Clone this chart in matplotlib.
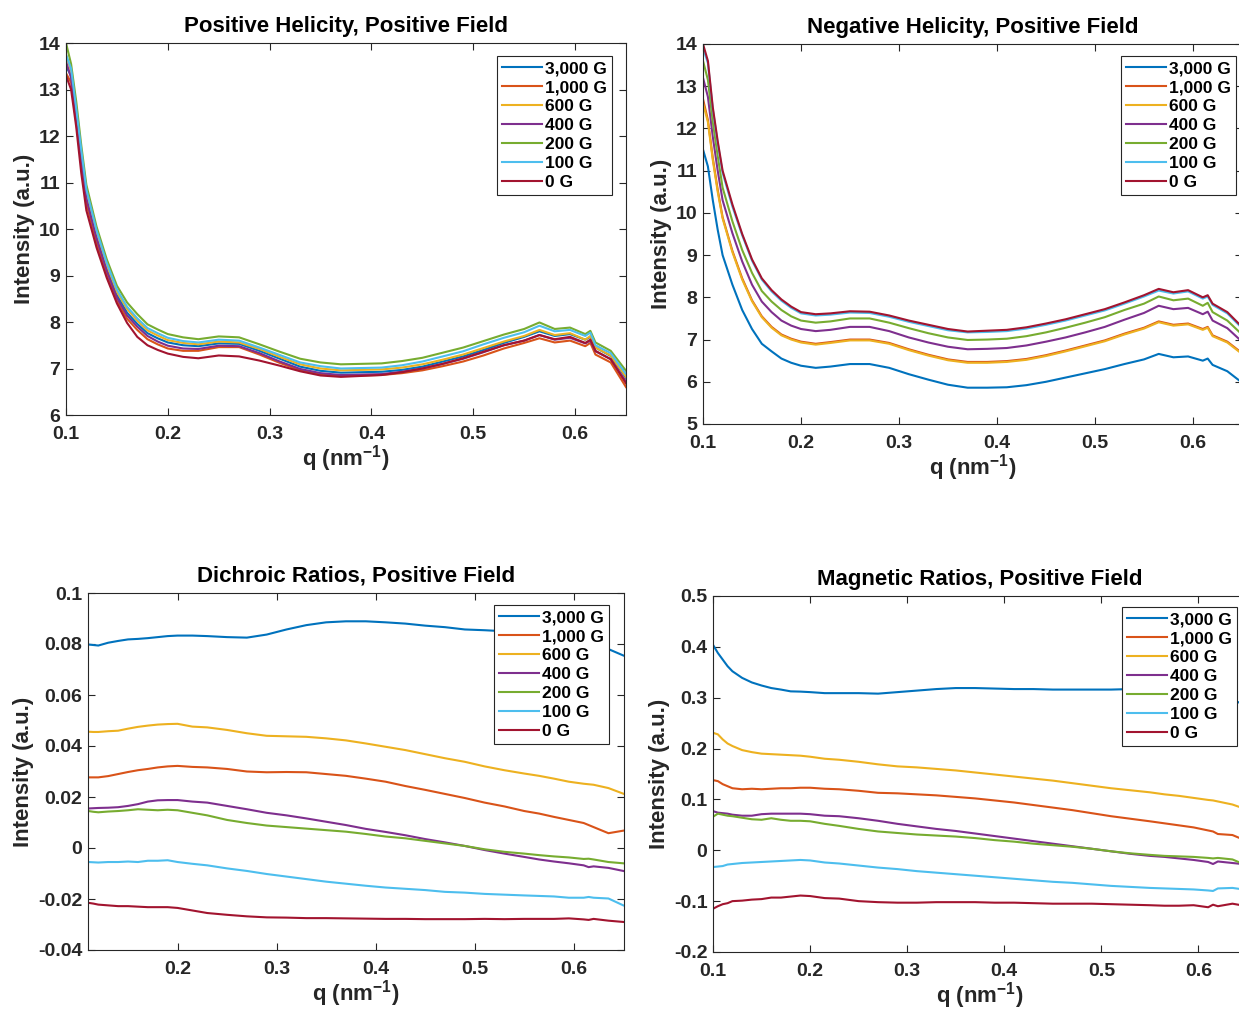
import numpy as np
import matplotlib
matplotlib.use("Agg")
import matplotlib.pyplot as plt
from matplotlib.ticker import FuncFormatter

plt.rcParams['font.family'] = ['Liberation Sans', 'DejaVu Sans']
plt.rcParams['font.weight'] = 'bold'
plt.rcParams['axes.unicode_minus'] = False
plt.rcParams['mathtext.fontset'] = 'custom'
plt.rcParams['mathtext.rm'] = 'Liberation Sans:bold'
plt.rcParams['mathtext.bf'] = 'Liberation Sans:bold'
plt.rcParams['mathtext.default'] = 'bf'

# veldsterktes en kleuren (MATLAB standaard)
fields = ['3,000 G', '1,000 G', '600 G', '400 G', '200 G', '100 G', '0 G']
colors = ['#0072BD', '#D95319', '#EDB120', '#7E2F8E', '#77AC30', '#4DBEEE', '#A2142F']

# gemeenschappelijke q-as (nm^-1)
q = [0.100, 0.105, 0.110, 0.115, 0.120, 0.130, 0.140, 0.150, 0.160, 0.170,
     0.180, 0.190, 0.200, 0.215, 0.230, 0.250, 0.270, 0.290, 0.310, 0.330,
     0.350, 0.370, 0.390, 0.410, 0.430, 0.450, 0.470, 0.490, 0.510, 0.530,
     0.550, 0.565, 0.580, 0.595, 0.610, 0.615, 0.620, 0.635, 0.650]

# Positieve heliciteit (volgorde: 3000, 1000, 600, 400, 200, 100, 0 G)
pos_helicity = [
    [13.5, 13.3, 12.45, 11.55, 10.7, 9.85, 9.15, 8.58, 8.2, 7.96, 7.76, 7.65, 7.56, 7.5, 7.48, 7.54, 7.53, 7.38, 7.21, 7.04, 6.95, 6.91, 6.92, 6.93, 6.97, 7.04, 7.15, 7.26, 7.4, 7.55, 7.68, 7.8, 7.7, 7.74, 7.62, 7.68, 7.45, 7.27, 6.8],
    [13.35, 13.15, 12.3, 11.4, 10.55, 9.7, 9.0, 8.45, 8.07, 7.83, 7.63, 7.52, 7.43, 7.38, 7.38, 7.46, 7.46, 7.3, 7.12, 6.96, 6.87, 6.84, 6.85, 6.86, 6.9, 6.96, 7.05, 7.15, 7.28, 7.43, 7.55, 7.65, 7.56, 7.6, 7.48, 7.55, 7.3, 7.13, 6.6],
    [13.75, 13.4, 12.55, 11.65, 10.8, 9.93, 9.22, 8.65, 8.28, 8.03, 7.82, 7.71, 7.61, 7.55, 7.52, 7.58, 7.56, 7.42, 7.25, 7.09, 7.0, 6.96, 6.97, 6.98, 7.02, 7.09, 7.19, 7.3, 7.44, 7.58, 7.7, 7.83, 7.72, 7.76, 7.62, 7.7, 7.45, 7.28, 6.82],
    [13.6, 13.25, 12.4, 11.5, 10.65, 9.8, 9.1, 8.52, 8.14, 7.9, 7.7, 7.58, 7.49, 7.43, 7.42, 7.49, 7.48, 7.33, 7.15, 6.99, 6.9, 6.86, 6.87, 6.88, 6.93, 7.0, 7.1, 7.21, 7.35, 7.5, 7.6, 7.72, 7.62, 7.66, 7.54, 7.6, 7.37, 7.2, 6.72],
    [14.0, 13.55, 12.75, 11.8, 10.95, 10.05, 9.35, 8.78, 8.42, 8.17, 7.95, 7.84, 7.74, 7.67, 7.63, 7.69, 7.67, 7.52, 7.36, 7.21, 7.13, 7.09, 7.1, 7.11, 7.16, 7.23, 7.34, 7.45, 7.59, 7.73, 7.85, 7.99, 7.85, 7.88, 7.74, 7.81, 7.56, 7.38, 6.95],
    [13.75, 13.45, 12.6, 11.7, 10.85, 9.97, 9.27, 8.7, 8.33, 8.08, 7.87, 7.76, 7.66, 7.59, 7.56, 7.62, 7.6, 7.45, 7.29, 7.13, 7.05, 7.0, 7.01, 7.02, 7.07, 7.15, 7.26, 7.37, 7.52, 7.66, 7.78, 7.92, 7.8, 7.83, 7.7, 7.77, 7.5, 7.33, 6.88],
    [13.3, 13.0, 12.2, 11.2, 10.4, 9.6, 8.95, 8.4, 7.98, 7.68, 7.5, 7.4, 7.32, 7.25, 7.22, 7.28, 7.26, 7.17, 7.06, 6.94, 6.85, 6.82, 6.84, 6.86, 6.92, 7.0, 7.1, 7.22, 7.36, 7.5, 7.6, 7.72, 7.63, 7.68, 7.55, 7.62, 7.38, 7.2, 6.68],
]

# Negatieve heliciteit
neg_helicity = [
    [11.5, 11.1, 10.3, 9.6, 9.0, 8.3, 7.7, 7.25, 6.9, 6.72, 6.55, 6.45, 6.38, 6.33, 6.36, 6.42, 6.42, 6.33, 6.18, 6.05, 5.93, 5.86, 5.86, 5.87, 5.92, 6.0, 6.1, 6.2, 6.3, 6.42, 6.53, 6.66, 6.58, 6.6, 6.5, 6.55, 6.4, 6.25, 5.98],
    [12.7, 12.2, 11.3, 10.55, 9.9, 9.1, 8.45, 7.93, 7.55, 7.3, 7.12, 7.02, 6.95, 6.9, 6.94, 7.0, 7.0, 6.92, 6.77, 6.64, 6.53, 6.47, 6.47, 6.49, 6.54, 6.63, 6.74, 6.86, 6.98, 7.14, 7.28, 7.43, 7.35, 7.38, 7.25, 7.3, 7.1, 6.95, 6.68],
    [12.6, 12.15, 11.25, 10.5, 9.87, 9.07, 8.42, 7.91, 7.53, 7.28, 7.1, 7.0, 6.93, 6.88, 6.92, 6.98, 6.98, 6.9, 6.75, 6.62, 6.51, 6.45, 6.45, 6.47, 6.52, 6.61, 6.72, 6.84, 6.96, 7.12, 7.26, 7.41, 7.33, 7.36, 7.23, 7.28, 7.08, 6.93, 6.66],
    [13.2, 12.75, 11.8, 11.0, 10.3, 9.52, 8.85, 8.3, 7.9, 7.65, 7.45, 7.33, 7.25, 7.2, 7.23, 7.3, 7.3, 7.2, 7.05, 6.93, 6.83, 6.77, 6.78, 6.8, 6.86, 6.95, 7.05, 7.17, 7.3, 7.47, 7.63, 7.8, 7.72, 7.75, 7.6, 7.66, 7.45, 7.27, 6.95],
    [13.6, 13.15, 12.15, 11.35, 10.6, 9.8, 9.12, 8.58, 8.15, 7.9, 7.7, 7.55, 7.45, 7.4, 7.43, 7.5, 7.5, 7.4, 7.27, 7.15, 7.05, 6.99, 7.0, 7.02, 7.08, 7.17, 7.28, 7.4, 7.53, 7.7, 7.85, 8.02, 7.93, 7.97, 7.8, 7.87, 7.65, 7.45, 7.12],
    [13.9, 13.55, 12.45, 11.65, 10.95, 10.15, 9.47, 8.87, 8.42, 8.14, 7.92, 7.75, 7.62, 7.57, 7.59, 7.64, 7.63, 7.54, 7.42, 7.32, 7.22, 7.17, 7.18, 7.2, 7.26, 7.35, 7.45, 7.57, 7.69, 7.85, 8.02, 8.16, 8.09, 8.14, 7.97, 8.02, 7.82, 7.62, 7.27],
    [14.0, 13.6, 12.5, 11.7, 11.0, 10.2, 9.5, 8.9, 8.45, 8.17, 7.95, 7.78, 7.65, 7.6, 7.62, 7.67, 7.66, 7.57, 7.45, 7.35, 7.25, 7.19, 7.21, 7.23, 7.29, 7.38, 7.48, 7.6, 7.72, 7.88, 8.05, 8.2, 8.12, 8.17, 8.0, 8.05, 7.85, 7.65, 7.3],
]

# Dichroische verhoudingen
dichroic = [
    [0.0798, 0.0798, 0.0798, 0.0796, 0.0794, 0.0805, 0.0812, 0.0818, 0.082, 0.0823, 0.0827, 0.0831, 0.0833, 0.0833, 0.0831, 0.0827, 0.0825, 0.0837, 0.0857, 0.0874, 0.0885, 0.0889, 0.0889, 0.0885, 0.088, 0.0872, 0.0866, 0.0857, 0.0854, 0.085, 0.0845, 0.084, 0.083, 0.0815, 0.080, 0.0795, 0.079, 0.078, 0.0755],
    [0.0277, 0.0277, 0.0277, 0.0277, 0.0277, 0.0282, 0.029, 0.0298, 0.0305, 0.031, 0.0316, 0.032, 0.0322, 0.0318, 0.0316, 0.031, 0.030, 0.0297, 0.0298, 0.0297, 0.029, 0.0283, 0.0272, 0.026, 0.0243, 0.0228, 0.0212, 0.0196, 0.0178, 0.0163, 0.0145, 0.0135, 0.0122, 0.011, 0.0098, 0.009, 0.0082, 0.0058, 0.0068],
    [0.0456, 0.0456, 0.0456, 0.0455, 0.0455, 0.0458, 0.046, 0.0468, 0.0475, 0.048, 0.0484, 0.0486, 0.0487, 0.0476, 0.0473, 0.0463, 0.045, 0.044, 0.0438, 0.0436, 0.043, 0.0422, 0.041, 0.0397, 0.0384, 0.0368, 0.0352, 0.0338, 0.032, 0.0305, 0.0292, 0.0283, 0.0272, 0.026, 0.0252, 0.025, 0.0248, 0.0235, 0.0213],
    [0.0155, 0.0155, 0.0155, 0.0156, 0.0157, 0.0158, 0.016, 0.0165, 0.0172, 0.0182, 0.0187, 0.0188, 0.0188, 0.0182, 0.0178, 0.0165, 0.0152, 0.0138, 0.0128, 0.0116, 0.0103, 0.009, 0.0075, 0.0063, 0.005, 0.0035, 0.0022, 0.0008, -0.0008, -0.0022, -0.0035, -0.0045, -0.0053, -0.006, -0.0068, -0.0075, -0.0072, -0.0078, -0.009],
    [0.0145, 0.0145, 0.0145, 0.0142, 0.014, 0.0143, 0.0145, 0.0148, 0.0152, 0.015, 0.0148, 0.015, 0.0148, 0.0138, 0.0128, 0.011, 0.0098, 0.0088, 0.0082, 0.0076, 0.007, 0.0064, 0.0055, 0.0045, 0.0038, 0.0028, 0.0018, 0.0008, -0.0005, -0.0015, -0.0022, -0.0028, -0.0033, -0.0037, -0.0043, -0.0042, -0.0045, -0.0055, -0.006],
    [-0.0055, -0.0055, -0.0055, -0.0056, -0.0057, -0.0055, -0.0055, -0.0053, -0.0055, -0.005, -0.005, -0.0048, -0.0055, -0.0062, -0.0068, -0.008, -0.009, -0.0102, -0.0112, -0.0122, -0.0132, -0.014, -0.0148, -0.0155, -0.016, -0.0165, -0.0172, -0.0175, -0.018, -0.0183, -0.0186, -0.0188, -0.019, -0.0195, -0.0195, -0.0192, -0.0195, -0.0198, -0.0225],
    [-0.0215, -0.0215, -0.0215, -0.0218, -0.0222, -0.0225, -0.0228, -0.0228, -0.023, -0.0232, -0.0232, -0.0232, -0.0235, -0.0245, -0.0255, -0.0262, -0.0268, -0.0272, -0.0273, -0.0275, -0.0275, -0.0276, -0.0277, -0.0278, -0.0278, -0.0279, -0.0279, -0.0279, -0.0278, -0.0279, -0.0278, -0.0278, -0.0278, -0.0276, -0.028, -0.0282, -0.0278, -0.0285, -0.029],
]

# Magnetische verhoudingen
magnetic = [
    [0.404, 0.388, 0.375, 0.362, 0.352, 0.339, 0.33, 0.324, 0.319, 0.316, 0.3125, 0.312, 0.311, 0.309, 0.309, 0.309, 0.308, 0.311, 0.314, 0.317, 0.319, 0.319, 0.318, 0.317, 0.317, 0.316, 0.316, 0.316, 0.316, 0.317, 0.318, 0.318, 0.317, 0.315, 0.31, 0.308, 0.305, 0.296, 0.284],
    [0.138, 0.136, 0.13, 0.126, 0.122, 0.12, 0.121, 0.12, 0.121, 0.122, 0.122, 0.123, 0.123, 0.121, 0.12, 0.117, 0.113, 0.112, 0.11, 0.108, 0.105, 0.102, 0.098, 0.094, 0.089, 0.084, 0.079, 0.073, 0.067, 0.062, 0.057, 0.053, 0.049, 0.045, 0.039, 0.037, 0.032, 0.03, 0.018],
    [0.231, 0.228, 0.218, 0.21, 0.205, 0.197, 0.193, 0.19, 0.189, 0.188, 0.187, 0.186, 0.184, 0.18, 0.178, 0.174, 0.169, 0.165, 0.163, 0.16, 0.157, 0.153, 0.149, 0.145, 0.141, 0.137, 0.132, 0.127, 0.122, 0.118, 0.114, 0.11, 0.107, 0.103, 0.099, 0.098, 0.096, 0.09, 0.08],
    [0.077, 0.074, 0.073, 0.072, 0.07, 0.068, 0.068, 0.071, 0.072, 0.072, 0.072, 0.072, 0.071, 0.068, 0.067, 0.063, 0.058, 0.052, 0.047, 0.042, 0.038, 0.033, 0.028, 0.023, 0.018, 0.013, 0.008, 0.003, -0.002, -0.007, -0.011, -0.013, -0.016, -0.019, -0.023, -0.027, -0.022, -0.025, -0.028],
    [0.066, 0.072, 0.07, 0.068, 0.067, 0.064, 0.061, 0.06, 0.063, 0.06, 0.058, 0.058, 0.057, 0.052, 0.048, 0.042, 0.037, 0.034, 0.031, 0.029, 0.027, 0.024, 0.02, 0.017, 0.013, 0.01, 0.007, 0.003, -0.002, -0.006, -0.009, -0.011, -0.012, -0.013, -0.015, -0.016, -0.015, -0.018, -0.03],
    [-0.033, -0.032, -0.031, -0.028, -0.027, -0.025, -0.024, -0.023, -0.022, -0.021, -0.02, -0.019, -0.02, -0.024, -0.026, -0.03, -0.034, -0.037, -0.041, -0.044, -0.047, -0.05, -0.053, -0.056, -0.059, -0.062, -0.064, -0.067, -0.07, -0.072, -0.074, -0.075, -0.076, -0.077, -0.079, -0.08, -0.075, -0.074, -0.078],
    [-0.115, -0.11, -0.106, -0.104, -0.1, -0.099, -0.097, -0.096, -0.093, -0.093, -0.091, -0.089, -0.09, -0.094, -0.095, -0.1, -0.102, -0.103, -0.103, -0.102, -0.102, -0.102, -0.103, -0.103, -0.104, -0.105, -0.105, -0.105, -0.106, -0.107, -0.108, -0.109, -0.109, -0.108, -0.112, -0.107, -0.11, -0.105, -0.11],
]

titles = ['Positive Helicity, Positive Field', 'Negative Helicity, Positive Field',
          'Dichroic Ratios, Positive Field', 'Magnetic Ratios, Positive Field']

W, H = 1239, 1009
fig = plt.figure(figsize=(W / 100, H / 100), dpi=100)


def px_rect(x0, y0, x1, y1):
    # pixelcoordinaten (boven-links) -> figuurfracties
    return [x0 / W, 1 - y1 / H, (x1 - x0) / W, (y1 - y0) / H]


panels = [
    (pos_helicity, px_rect(66, 43, 626, 415), (0.1, 0.65), (6, 14), np.arange(6, 15, 1), (612, 56)),
    (neg_helicity, px_rect(703, 44, 1242, 424), (0.1, 0.65), (5, 14), np.arange(5, 15, 1), (1236, 56)),
    (dichroic, px_rect(88, 593, 624, 950), (0.1096, 0.6507), (-0.04, 0.1), np.arange(-0.04, 0.101, 0.02), (609, 605)),
    (magnetic, px_rect(713, 596, 1247, 952), (0.1, 0.65), (-0.2, 0.5), np.arange(-0.2, 0.51, 0.1), (1237, 607)),
]

fmt = FuncFormatter(lambda v, p: '%g' % round(v, 4))
dark = '#262626'

for (data, rect, xl, yl, yt, leg), title in zip(panels, titles):
    ax = fig.add_axes(rect)
    for vals, lab, c in zip(data, fields, colors):
        ax.plot(q, vals, color=c, lw=1.5, label=lab)
    ax.set_xticks([0.1, 0.2, 0.3, 0.4, 0.5, 0.6])
    ax.set_yticks(yt)
    ax.set_xlim(*xl)
    ax.set_ylim(*yl)
    ax.xaxis.set_major_formatter(fmt)
    ax.yaxis.set_major_formatter(fmt)
    ax.tick_params(direction='in', top=True, right=True, labelsize=14, colors=dark,
                   length=5, width=0.8)
    ax.tick_params(axis='x', pad=8)
    ax.tick_params(axis='y', pad=4)
    for s in ax.spines.values():
        s.set_color(dark)
        s.set_linewidth(0.8)
    ax.set_title(title, fontsize=16, fontweight='bold', pad=8)
    ax.set_xlabel('q (nm$^{-1}$)', fontsize=16, fontweight='bold', color=dark, labelpad=0)
    ax.set_ylabel('Intensity (a.u.)', fontsize=16, fontweight='bold', color=dark, labelpad=3)
    lg = ax.legend(loc='upper right', bbox_to_anchor=(leg[0] / W, 1 - leg[1] / H),
                   bbox_transform=fig.transFigure, fontsize=12.5, frameon=True,
                   fancybox=False, framealpha=1, edgecolor=dark, handlelength=2.3,
                   handletextpad=0.15, labelspacing=0.22, borderpad=0.3, borderaxespad=0)
    lg.get_frame().set_linewidth(0.8)

fig.savefig('out.png', dpi=100)
